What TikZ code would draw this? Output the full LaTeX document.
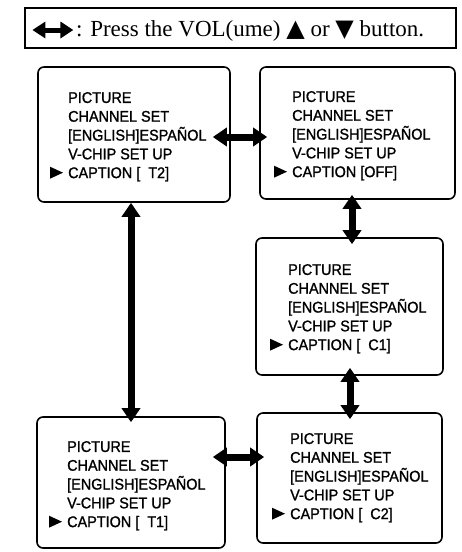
\documentclass[tikz,border=0pt]{standalone}
\usepackage{fontspec}
\setmainfont{Liberation Sans}[FakeStretch=0.93,FakeBold=1.2]
\newfontfamily\legendfont{Liberation Serif}
\newfontfamily\symfont{DejaVu Sans}
\usetikzlibrary{arrows.meta}
\tikzset{
  screenbox/.style={draw, line width=1.6pt, rounded corners=6pt, inner sep=0pt},
  menutext/.style={anchor=north west, inner sep=0pt, align=left, font=\fontsize{15.5}{18.8}\selectfont},
  dbl/.style={line width=7pt, {Triangle[length=14pt,width=18pt]}-{Triangle[length=14pt,width=18pt]}},
  legarrow/.style={line width=5pt, {Triangle[length=13pt,width=16pt]}-{Triangle[length=13pt,width=16pt]}},
  legendbox/.style={draw, line width=1.2pt, inner sep=0pt},
  legendtext/.style={anchor=base west, inner sep=0pt, font=\legendfont\fontsize{23}{23}\selectfont},
}
\newcommand\tri[1]{{\symfont\fontsize{24}{24}\selectfont #1}}
% name, x1, y1, x2, y2, text x, first baseline, caption value
\newcommand\menuscreen[8]{%
  \node[screenbox, minimum width={(#4-#2)*1pt}, minimum height={(#5-#3)*1pt}] (#1) at ({(#2+#4)/2},{(#3+#5)/2}) {};
  \node[menutext] (#1t) at (#6,{#7-11.1}) {PICTURE\\CHANNEL SET\\{[}ENGLISH]ESPAÑOL\\V-CHIP SET UP\\CAPTION #8};
  \fill ({#6-18},{#7+75.2-11.5}) -- ({#6-5},{#7+75.2-5.5}) -- ({#6-18},{#7+75.2+0.5}) -- cycle;
}
\begin{document}
\begin{tikzpicture}[x=1pt,y=-1pt]
\useasboundingbox (0,0) rectangle (461,552);
% legend
\node[legendbox, minimum width=431pt, minimum height=40pt] (legend) at (240.5,28) {};
\node[legendtext] (legtext) at (76,36) {: Press the VOL(ume) \tri{▲} or \tri{▼} button.};
\draw[legarrow] ([xshift=8pt,yshift=-2pt]legend.west) -- ([xshift=49pt,yshift=-2pt]legend.west);
% screens
\menuscreen{b1}{38}{67}{230}{202}{68}{103}{[\ \ T2]}
\menuscreen{b2}{260}{67}{455}{199}{292}{102}{[OFF]}
\menuscreen{b3}{256}{238}{443}{375}{288}{275}{[\ \ C1]}
\menuscreen{b4}{37}{417}{225}{548}{67}{452}{[\ \ T1]}
\menuscreen{b5}{257}{413}{442}{543}{290}{444}{[\ \ C2]}
% connectors
\draw[dbl] ([xshift=-18pt,yshift=-2.5pt]b1.east) -- ([xshift=8pt,yshift=-4pt]b2.west);
\draw[dbl] ([xshift=-3pt]b1.south) -- ([yshift=-6pt]b4.north);
\draw[dbl] ([xshift=-5.5pt,yshift=5pt]b2.south) -- ([xshift=2.5pt,yshift=-7pt]b3.north);
\draw[dbl] ([xshift=0.5pt,yshift=8pt]b3.south) -- ([xshift=0.5pt,yshift=-7pt]b5.north);
\draw[dbl] ([xshift=-13pt,yshift=25.5pt]b4.east) -- ([xshift=8pt,yshift=21pt]b5.west);
\end{tikzpicture}
\end{document}
